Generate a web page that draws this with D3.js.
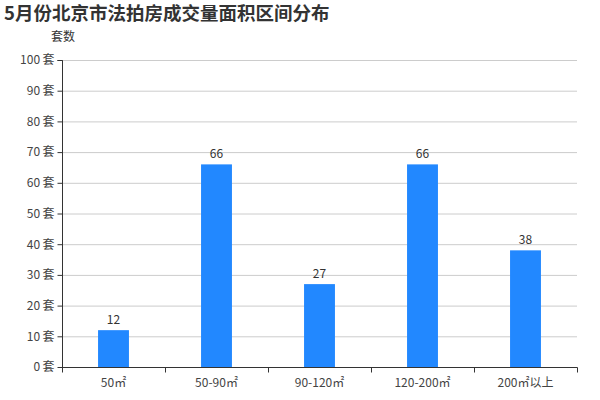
<!DOCTYPE html>
<html><head><meta charset="utf-8">
<script src="https://cdn.jsdelivr.net/npm/d3@7/dist/d3.min.js"></script>
<style>body{margin:0;background:#fff}svg{display:block}text{font-family:"Microsoft YaHei","Noto Sans CJK SC",sans-serif}</style>
</head><body><svg id="c" width="600" height="400"></svg>
<script>
const categories = ["50㎡","50-90㎡","90-120㎡","120-200㎡","200㎡以上"];
const values = [12,66,27,66,38];
const yTicks = [0,10,20,30,40,50,60,70,80,90,100];
const title = "5月份北京市法拍房成交量面积区间分布";
const yName = "套数";
const unit = " 套";

const svg = d3.select("#c");
const m = {l:62, r:577, t:60, b:367};
const x = d3.scaleBand().domain(categories).range([m.l, m.r]);
const y = d3.scaleLinear().domain([0,100]).range([m.b, m.t]);

svg.append("text").attr("x",4).attr("y",20).attr("font-size",18.5).attr("font-weight","bold").attr("fill","#333").text(title);
svg.append("text").attr("x",63).attr("y",41).attr("text-anchor","middle").attr("font-size",12).attr("fill","#333").text(yName);

// grid
svg.append("g").selectAll("line").data(yTicks.filter(d=>d>0)).join("line")
  .attr("x1",m.l).attr("x2",m.r).attr("y1",d=>y(d)+0.5).attr("y2",d=>y(d)+0.5)
  .attr("stroke","#ccc").attr("stroke-width",1);

// bars
const bw = x.bandwidth()*0.3;
svg.append("g").selectAll("rect").data(values).join("rect")
  .attr("x",(d,i)=>x(categories[i])+x.bandwidth()/2-bw/2)
  .attr("width",bw).attr("y",d=>y(d)).attr("height",d=>y(0)-y(d))
  .attr("fill","#2288ff");
svg.append("g").selectAll("text").data(values).join("text")
  .attr("x",(d,i)=>x(categories[i])+x.bandwidth()/2).attr("y",d=>y(d)-6)
  .attr("text-anchor","middle").attr("font-size",12).attr("fill","#333").text(d=>d);

// y axis
const ya = svg.append("g").attr("transform",`translate(${m.l+0.5},0)`)
  .call(d3.axisLeft(y).tickValues(yTicks).tickSize(5).tickPadding(3).tickFormat(d=>d+"\u2009"+unit.trim()));
ya.select(".domain").attr("stroke","#333").attr("d",`M-5,${m.t+0.5}H0V${m.b+0.5}`);
ya.selectAll(".tick line").attr("stroke","#333");
ya.selectAll(".tick text").attr("font-size",12).attr("fill","#444").attr("font-family","\"Microsoft YaHei\",\"Noto Sans CJK SC\",sans-serif").attr("xml:space","preserve");

// x axis
const xa = svg.append("g").attr("transform",`translate(0,${m.b+0.5})`);
xa.append("line").attr("x1",m.l).attr("x2",m.r+0.5).attr("stroke","#333");
const bounds = categories.map(c=>x(c)).concat([m.r]);
xa.selectAll("line.t").data(bounds).join("line").attr("class","t")
  .attr("x1",d=>Math.round(d)+0.5).attr("x2",d=>Math.round(d)+0.5).attr("y1",0).attr("y2",5).attr("stroke","#333");
xa.selectAll("text").data(categories).join("text")
  .attr("x",d=>x(d)+x.bandwidth()/2).attr("y",19).attr("text-anchor","middle")
  .attr("font-size",12).attr("fill","#444").text(d=>d);
</script></body></html>
